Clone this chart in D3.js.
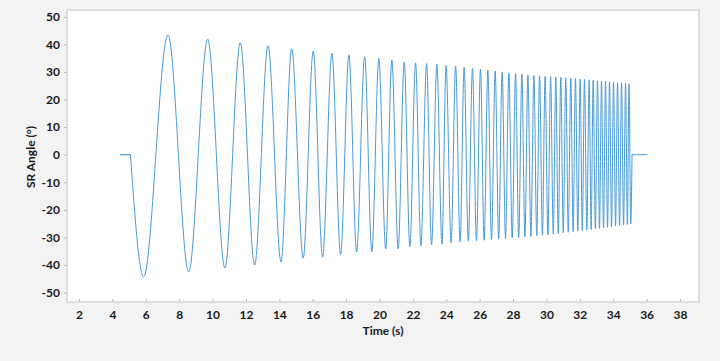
<!DOCTYPE html>
<html>
<head>
<meta charset="utf-8">
<script src="https://cdn.jsdelivr.net/npm/d3@7"></script>
<style>
  html, body { margin: 0; padding: 0; background: #f3f3f3; }
  svg { display: block; }
  text { font-family: Lato, "Open Sans", sans-serif; font-weight: bold; fill: #1a1a1a; }
</style>
</head>
<body>
<svg id="chart" width="720" height="361"></svg>
<script>
// ---- data ----
const xTicks = [2,4,6,8,10,12,14,16,18,20,22,24,26,28,30,32,34,36,38];
const yTicks = [-50,-40,-30,-20,-10,0,10,20,30,40,50];

// flat lead-in and tail (time s, angle deg)
const leadIn = [[4.46, 0], [5.08, 0]];
const tail = [[35.13, 0], [36.05, 0]];

// positive extrema
const peakTimes = [7.33, 9.71, 11.66, 13.32, 14.74, 16.03, 17.15, 18.17, 19.11, 19.96,
  20.74, 21.48, 22.16, 22.82, 23.44, 23.99, 24.56, 25.07, 25.57, 26.05,
  26.49, 26.93, 27.35, 27.75, 28.15, 28.53, 28.89, 29.25, 29.59, 29.92,
  30.25, 30.56, 30.86, 31.16, 31.46, 31.74, 32.02, 32.28, 32.56, 32.80,
  33.06, 33.30, 33.54, 33.78, 34.02, 34.26, 34.50, 34.74, 34.95];
const peakValues = [43.5, 41.9, 40.6, 39.5, 38.4, 37.6, 36.7, 36.2, 35.5, 34.9,
  34.4, 33.6, 33.3, 33.0, 32.8, 32.3, 32.1, 31.7, 31.3, 31.0,
  30.7, 30.3, 30.0, 29.6, 29.4, 29.1, 28.9, 28.75, 28.6, 28.45,
  28.3, 28.2, 28.0, 27.9, 27.7, 27.6, 27.4, 27.3, 27.1, 27.0,
  26.8, 26.7, 26.6, 26.4, 26.3, 26.1, 26.0, 25.85, 25.7];

// negative extrema
const troughTimes = [5.87, 8.57, 10.74, 12.52, 14.10, 15.43, 16.59, 17.67, 18.63, 19.54,
  20.37, 21.12, 21.82, 22.48, 23.12, 23.74, 24.29, 24.83, 25.32, 25.81,
  26.27, 26.71, 27.14, 27.55, 27.95, 28.34, 28.71, 29.07, 29.42, 29.76,
  30.09, 30.41, 30.71, 31.01, 31.31, 31.60, 31.88, 32.15, 32.42, 32.68,
  32.93, 33.18, 33.42, 33.66, 33.90, 34.14, 34.38, 34.62, 34.85, 35.05];
const troughValues = [-44.3, -42.5, -41.1, -40.0, -38.8, -37.5, -37.2, -36.2, -35.3, -35.2,
  -34.2, -34.2, -33.3, -33.0, -32.6, -32.4, -32.0, -31.6, -31.4, -31.2,
  -31.0, -30.8, -30.6, -30.4, -30.2, -30.0, -29.8, -29.6, -29.4, -29.2,
  -29.0, -28.8, -28.6, -28.4, -28.1, -27.9, -27.7, -27.5, -27.3, -27.1,
  -26.9, -26.7, -26.5, -26.3, -26.1, -25.9, -25.7, -25.5, -25.3, -25.1];

const xTitle = "Time (s)";
const yTitle = "SR Angle (°)";

// ---- layout ----
const plot = { left: 67, right: 699, top: 10, bottom: 302 };
const svg = d3.select("#chart");

const x = d3.scaleLinear().domain([1.28, 39.14]).range([plot.left, plot.right]);
const y = d3.scaleLinear().domain([-53.4, 52.45]).range([plot.bottom, plot.top]);

// plot background
svg.append("rect")
  .attr("x", plot.left).attr("y", plot.top)
  .attr("width", plot.right - plot.left).attr("height", plot.bottom - plot.top)
  .attr("fill", "#ffffff").attr("stroke", "#c4c4c4").attr("stroke-width", 1);

const fmt = d => String(d); // plain hyphen-minus like the reference

// axes
const xAxis = d3.axisBottom(x).tickValues(xTicks).tickSize(-3).tickPadding(8).tickFormat(fmt);
const gx = svg.append("g").attr("transform", `translate(0,${plot.bottom})`).call(xAxis);
gx.select(".domain").remove();
gx.selectAll(".tick line").attr("stroke", "#b8b8b8");
gx.selectAll(".tick text").style("font-size", "12px").attr("fill", "#1a1a1a");

const yAxis = d3.axisLeft(y).tickValues(yTicks).tickSize(3).tickPadding(4).tickFormat(fmt);
const gy = svg.append("g").attr("transform", `translate(${plot.left},0)`).call(yAxis);
gy.select(".domain").remove();
gy.selectAll(".tick line").attr("stroke", "#b8b8b8");
gy.selectAll(".tick text").style("font-size", "12px").attr("fill", "#1a1a1a");

// titles
svg.append("text").attr("x", (plot.left + plot.right) / 2).attr("y", 335)
  .attr("text-anchor", "middle").style("font-size", "12px").text(xTitle);
svg.append("text").attr("transform", `translate(35,${(plot.top + plot.bottom) / 2 + 1}) rotate(-90)`)
  .attr("text-anchor", "middle").style("font-size", "12px").text(yTitle);

// build oscillation: start at zero, interleave extrema, end at zero
const osc = [leadIn[leadIn.length - 1]];
for (let i = 0; i < troughTimes.length; i++) {
  osc.push([troughTimes[i], troughValues[i]]);
  if (i < peakTimes.length) osc.push([peakTimes[i], peakValues[i]]);
}
osc.push(tail[0]);
osc.sort((a, b) => a[0] - b[0]);

const lineOsc = d3.line().x(d => x(d[0])).y(d => y(d[1])).curve(d3.curveMonotoneX);
const lineFlat = d3.line().x(d => x(d[0])).y(d => y(d[1]));

const color = "#4b9ad5";
svg.append("path").attr("d", lineFlat(leadIn)).attr("fill", "none").attr("stroke", color).attr("stroke-width", 1.2);
svg.append("path").attr("d", lineOsc(osc)).attr("fill", "none").attr("stroke", color).attr("stroke-width", 1);
svg.append("path").attr("d", lineFlat(tail)).attr("fill", "none").attr("stroke", color).attr("stroke-width", 1);
</script>
</body>
</html>
